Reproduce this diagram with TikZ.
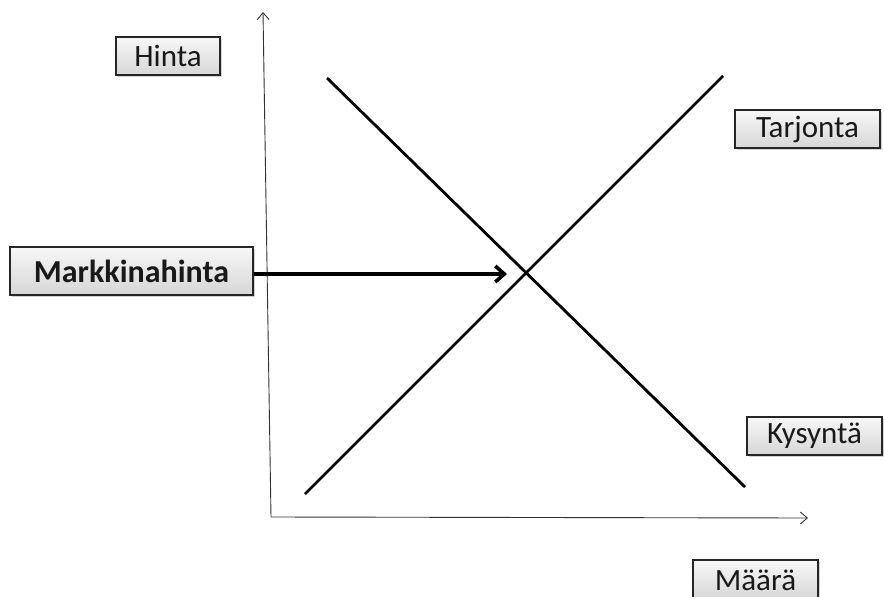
\documentclass[tikz,border=0pt]{standalone}
\usepackage{fontspec}
\setmainfont{Carlito}
\usetikzlibrary{shadows,arrows.meta}
\begin{document}
\begin{tikzpicture}[x=1pt,y=-1pt,
  lbl/.style={draw=black!85, line width=1.3pt, top color=white!97!black, bottom color=black!16,
    drop shadow={shadow xshift=2pt, shadow yshift=-2pt, opacity=0.35},
    inner sep=0pt, font=\fontsize{31}{34}\selectfont, text=black!90},
  axis/.style={line width=0.9pt, black!80, -{Straight Barb[length=7pt,width=12pt]}},
  curve/.style={line width=2.8pt, black},
  marrow/.style={line width=3.6pt, -{Straight Barb[length=9pt,width=16pt,line width=3.6pt]}}]
\useasboundingbox (0,0) rectangle (884,597);
% axes
\coordinate (O) at (271,517);
\coordinate (Ytop) at (263,12);
\coordinate (Xend) at (808,518);
\draw[axis] (O) -- (Ytop);
\draw[axis] (O) -- (Xend);
% curves
\coordinate (D1) at (327,78);
\coordinate (D2) at (745,487);
\coordinate (S1) at (305,494);
\coordinate (S2) at (723,76);
\draw[curve] (D1) -- (D2);
\draw[curve] (S1) -- (S2);
% labels
\node[lbl, minimum width=104pt, minimum height=38pt] (hinta) at (168,56) {Hinta};
\node[lbl, minimum width=243pt, minimum height=48pt, font=\fontsize{32}{36}\selectfont\bfseries] (mh) at (131.5,271) {Markkinahinta};
\node[lbl, minimum width=145pt, minimum height=38pt] (tarj) at (807.5,129) {Tarjonta};
\node[lbl, minimum width=135pt, minimum height=38pt] (kys) at (814.5,436) {Kysyntä};
\node[lbl, minimum width=125pt, minimum height=40pt] (maara) at (755.5,580) {Määrä};
% price arrow
\coordinate (P) at (507,274);
\draw[marrow] (mh.east |- 0,274) -- (P);
\end{tikzpicture}
\end{document}
